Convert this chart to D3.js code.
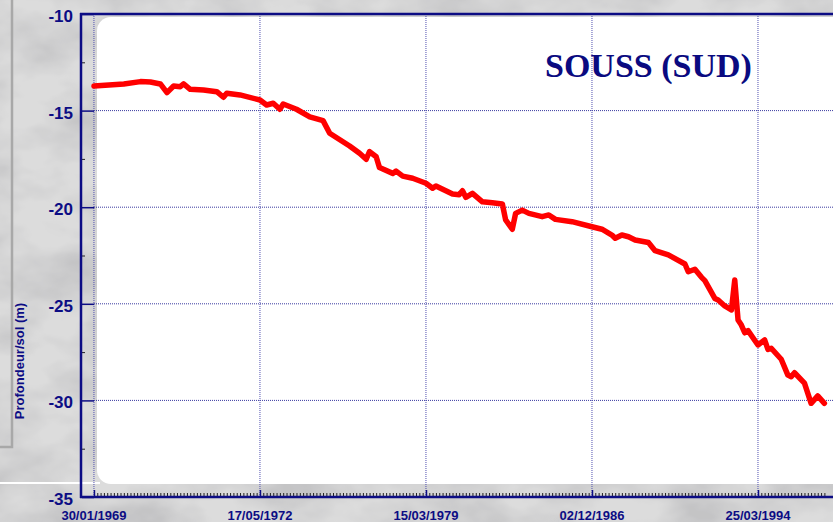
<!DOCTYPE html>
<html>
<head>
<meta charset="utf-8">
<script src="https://cdn.jsdelivr.net/npm/d3@7"></script>
<style>
  body { margin: 0; padding: 0; overflow: hidden; }
</style>
</head>
<body>
<div id="my_dataviz"></div>
<script>
// observation number (x) and depth below ground (m)
var obsIndex = [0, 9, 14, 17, 20, 22, 24, 26, 27, 29, 33, 37, 39, 40, 44, 50, 52, 54, 56, 57,
    61, 65, 69, 71, 77, 80, 82, 83, 85, 86, 90, 91, 93, 96, 100, 102, 103, 108, 110, 111,
    112, 114, 117, 120, 123, 124, 126, 127, 129, 131, 135, 137, 139, 144, 150, 153, 156, 157, 159, 161,
    163, 167, 169, 173, 178, 179, 181, 183, 184, 187, 188, 190, 192, 193, 194, 195, 196, 197, 200, 202,
    203, 204, 207, 209, 210, 211, 214, 216, 218, 220];
var depth = [-13.73, -13.62, -13.50, -13.52, -13.62, -14.07, -13.73, -13.76, -13.62, -13.90,
    -13.93, -14.02, -14.31, -14.10, -14.19, -14.45, -14.71, -14.62, -14.93, -14.66,
    -14.93, -15.32, -15.52, -16.17, -16.83, -17.21, -17.52, -17.12, -17.39, -17.95,
    -18.25, -18.13, -18.39, -18.50, -18.76, -19.02, -18.90, -19.32, -19.35, -19.15,
    -19.49, -19.28, -19.72, -19.77, -19.83, -20.66, -21.14, -20.32, -20.15, -20.32,
    -20.49, -20.40, -20.63, -20.75, -21.01, -21.14, -21.44, -21.61, -21.44, -21.53,
    -21.70, -21.83, -22.25, -22.47, -22.94, -23.34, -23.21, -23.63, -23.80, -24.72,
    -24.80, -25.11, -25.32, -23.77, -25.84, -26.10, -26.50, -26.39, -27.13, -26.87,
    -27.36, -27.30, -27.87, -28.69, -28.77, -28.57, -29.11, -30.15, -29.77, -30.15];

var tickIndex = [0, 50, 100, 150, 200];
var tickLabels = ["30/01/1969", "17/05/1972", "15/03/1979", "02/12/1986", "25/03/1994"];
var yTicks = [-10, -15, -20, -25, -30, -35];
var yMinor = [-12.5, -17.5, -22.5, -27.5, -32.5];

var data = obsIndex.map(function(d, i) { return {i: d, v: depth[i]}; });

var W = 833, H = 522;
var navy = "#0c0c84";

var svg = d3.select("#my_dataviz")
    .append("svg")
    .attr("width", W)
    .attr("height", H)
    .style("display", "block");

// marble background
var defs = svg.append("defs");
var f = defs.append("filter").attr("id", "marble")
    .attr("x", 0).attr("y", 0).attr("width", 1).attr("height", 1);
f.append("feTurbulence")
    .attr("type", "fractalNoise")
    .attr("baseFrequency", "0.012 0.02")
    .attr("numOctaves", 4)
    .attr("seed", 7)
    .attr("result", "noise");
f.append("feColorMatrix")
    .attr("in", "noise")
    .attr("type", "matrix")
    .attr("values", "0 0 0 0 0.55  0 0 0 0 0.55  0 0 0 0 0.56  -2.2 0 0 0 1.45")
    .attr("result", "veins");
f.append("feComposite").attr("in", "veins").attr("in2", "SourceGraphic").attr("operator", "over");

svg.append("rect")
    .attr("width", W).attr("height", H)
    .attr("fill", "#dcdcdc")
    .attr("filter", "url(#marble)");

// left panel edge and white rule
svg.append("path")
    .attr("d", "M12,0 V447 H0")
    .attr("fill", "none")
    .attr("stroke", "#a8a8a8")
    .attr("stroke-width", 2.5);
svg.append("line")
    .attr("x1", 0).attr("x2", 100).attr("y1", 483).attr("y2", 483)
    .attr("stroke", "#ffffff").attr("stroke-width", 2);

var x = d3.scaleLinear()
    .domain([-3.6, 224.1])
    .range([82, 838]);

var y = d3.scaleLinear()
    .domain([-35, -10])
    .range([497, 14]);

// white plot panel
svg.append("rect")
    .attr("x", 97).attr("y", 17)
    .attr("width", 760).attr("height", 467)
    .attr("rx", 14).attr("ry", 14)
    .attr("fill", "#ffffff");

// grid
svg.append("g")
    .selectAll("line")
    .data(yTicks.filter(function(d) { return d > -35 && d < -10; }))
    .enter().append("line")
    .attr("x1", 94).attr("x2", W)
    .attr("y1", function(d) { return y(d); })
    .attr("y2", function(d) { return y(d); })
    .attr("stroke", "#3a3aa0")
    .attr("stroke-width", 1)
    .attr("stroke-dasharray", "1,1");

svg.append("g")
    .selectAll("line")
    .data(tickIndex)
    .enter().append("line")
    .attr("x1", function(d) { return x(d); })
    .attr("x2", function(d) { return x(d); })
    .attr("y1", 14).attr("y2", 497)
    .attr("stroke", "#5050b0")
    .attr("stroke-width", 1)
    .attr("stroke-dasharray", "1,1");

// y axis
var yAxis = svg.append("g")
    .attr("transform", "translate(82,0)")
    .call(d3.axisRight(y).tickValues(yTicks).tickSize(12).tickFormat(""));
yAxis.select(".domain").remove();
yAxis.selectAll(".tick line").attr("stroke", navy).attr("stroke-width", 1.5);

svg.append("g")
    .attr("transform", "translate(82,0)")
    .call(d3.axisRight(y).tickValues(yMinor).tickSize(3).tickFormat(""))
    .call(function(g) { g.select(".domain").remove(); })
    .selectAll(".tick line").attr("stroke", "#222");

svg.append("g")
    .selectAll("text")
    .data(yTicks)
    .enter().append("text")
    .attr("x", 73)
    .attr("y", function(d) { return y(d) + 8; })
    .attr("text-anchor", "end")
    .style("font-family", "'Liberation Sans', Arial, sans-serif")
    .style("font-weight", "bold")
    .style("font-size", "17px")
    .attr("fill", navy)
    .text(function(d) { return d; });

// x axis ticks
var minor = d3.range(1, 221).filter(function(d) { return tickIndex.indexOf(d) < 0; });
svg.append("g")
    .attr("transform", "translate(0,497)")
    .call(d3.axisTop(x).tickValues(minor).tickSize(4).tickFormat(""))
    .call(function(g) { g.select(".domain").remove(); })
    .selectAll(".tick line").attr("stroke", "#222").attr("stroke-width", 1);

svg.append("g")
    .attr("transform", "translate(0,497)")
    .call(d3.axisTop(x).tickValues(tickIndex).tickSize(7).tickFormat(""))
    .call(function(g) { g.select(".domain").remove(); })
    .selectAll(".tick line").attr("stroke", navy).attr("stroke-width", 1.5);

svg.append("g")
    .selectAll("text")
    .data(tickIndex)
    .enter().append("text")
    .attr("x", function(d) { return x(d); })
    .attr("y", 520)
    .attr("text-anchor", "middle")
    .style("font-family", "'Liberation Sans', Arial, sans-serif")
    .style("font-weight", "bold")
    .style("font-size", "13px")
    .attr("fill", navy)
    .text(function(d, i) { return tickLabels[i]; });

// frame lines
svg.append("line")
    .attr("x1", 81).attr("x2", 81).attr("y1", 13).attr("y2", 498)
    .attr("stroke", navy).attr("stroke-width", 2.5);
svg.append("line")
    .attr("x1", 80).attr("x2", W).attr("y1", 497).attr("y2", 497)
    .attr("stroke", navy).attr("stroke-width", 2.5);
svg.append("line")
    .attr("x1", 80).attr("x2", W).attr("y1", 14).attr("y2", 14)
    .attr("stroke", navy).attr("stroke-width", 2.5);

// series
var line = d3.line()
    .x(function(d) { return x(d.i); })
    .y(function(d) { return y(d.v); });

svg.append("path")
    .datum(data)
    .attr("d", line)
    .attr("fill", "none")
    .attr("stroke", "#ff0000")
    .attr("stroke-width", 5.5)
    .attr("stroke-linejoin", "round")
    .attr("stroke-linecap", "round");

// title
svg.append("text")
    .attr("x", 545)
    .attr("y", 77)
    .style("font-family", "'Liberation Serif', 'Times New Roman', serif")
    .style("font-weight", "bold")
    .style("font-size", "34px")
    .attr("fill", "#0a0a80")
    .text("SOUSS (SUD)");

// y label
svg.append("text")
    .attr("transform", "translate(24,361) rotate(-90)")
    .attr("text-anchor", "middle")
    .style("font-family", "'Liberation Sans', Arial, sans-serif")
    .style("font-weight", "bold")
    .style("font-size", "13px")
    .attr("fill", navy)
    .text("Profondeur/sol (m)");
</script>
</body>
</html>
